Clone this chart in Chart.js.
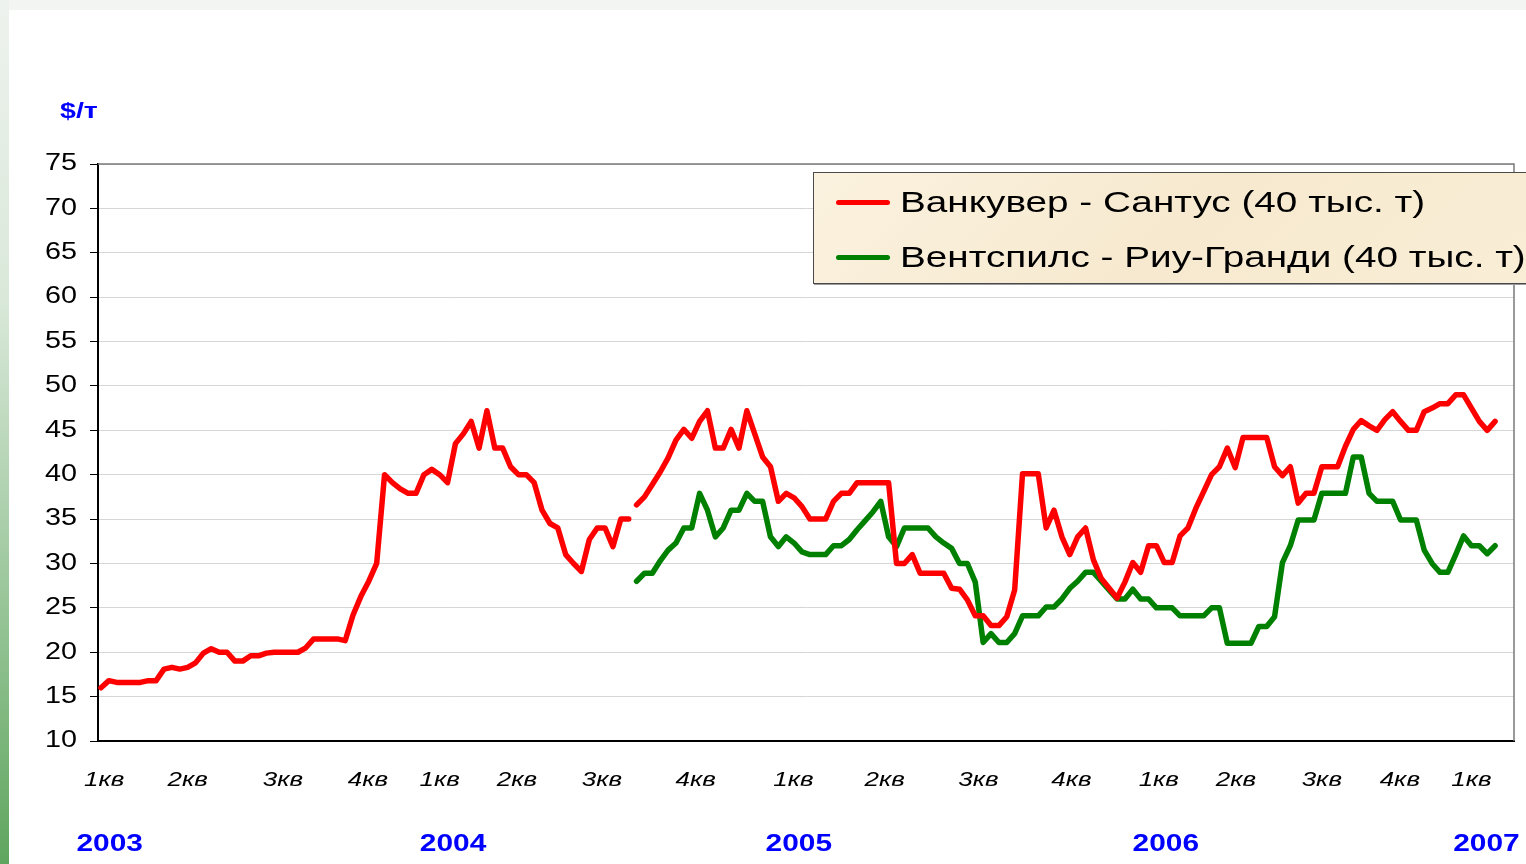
<!DOCTYPE html>
<html>
<head>
<meta charset="utf-8">
<script src="https://cdn.jsdelivr.net/npm/chart.js@4.4.1/dist/chart.umd.min.js"></script>
<style>
  html, body { margin: 0; padding: 0; width: 1526px; height: 864px; overflow: hidden; background: #f3f5f3; }
  #strip { position: absolute; left: 0; top: 0; width: 9px; height: 864px;
    background: linear-gradient(to bottom, #eef2ee 0%, #d9e8d9 35%, #8fc08f 75%, #5fa55f 100%); }
  #panel { position: absolute; left: 9px; top: 10px; width: 1517px; height: 854px; background: #fff; }
  #chart { position: absolute; left: 0; top: 0; }
  #legend { position: absolute; left: 813px; top: 172px; width: 730px; height: 110px;
    border: 1px solid #4a4a4a; box-shadow: 1px 1px 0 #9a9a9a;
    background: linear-gradient(135deg, #fbf2df 0%, #f6e9cf 50%, #f9eed6 100%);
    font-family: 'Liberation Sans', Arial, sans-serif; font-size: 30px; color: #000; }
  .item { position: absolute; left: 22px; height: 40px; line-height: 40px; white-space: nowrap; }
  .item span.ln { display: inline-block; width: 54px; height: 5px; border-radius: 3px; vertical-align: middle; margin-right: 10px; }
  .item span.tx { display: inline-block; transform: scaleX(1.29); transform-origin: left center; vertical-align: middle; }
</style>
</head>
<body>
<div id="strip"></div>
<div id="panel"></div>
<canvas id="chart" width="1526" height="864"></canvas>
<div id="legend">
  <div class="item" style="top:7px"><span class="ln" style="background:#ff0000"></span><span class="tx">Ванкувер - Сантус (40 тыс. т)</span></div>
  <div class="item" style="top:62px"><span class="ln" style="background:#008000"></span><span class="tx">Вентспилс - Риу-Гранди (40 тыс. т)</span></div>
</div>
<script>
// weekly freight rates, $/t; index = week number from the start of 2003
const redName = 'Ванкувер - Сантус (40 тыс. т)';
const greenName = 'Вентспилс - Риу-Гранди (40 тыс. т)';

const redValues = [
  16.0, 16.8, 16.6, 16.6, 16.6, 16.6, 16.8, 16.8, 18.1, 18.3,
  18.1, 18.3, 18.8, 19.9, 20.4, 20.0, 20.0, 19.0, 19.0, 19.6,
  19.6, 19.9, 20.0, 20.0, 20.0, 20.0, 20.5, 21.5, 21.5, 21.5,
  21.5, 21.3, 24.2, 26.3, 28.0, 30.0, 40.0, 39.1, 38.4, 37.9,
  37.9, 40.0, 40.6, 40.0, 39.1, 43.5, 44.6, 46.0, 43.0, 47.2,
  43.0, 43.0, 40.9, 40.0, 40.0, 39.1, 36.0, 34.5, 34.0, 31.0,
  30.0, 29.1, 32.7, 34.0, 34.0, 31.9, 35.0, 35.0,
  36.6, 37.5, 38.9, 40.3, 41.9, 43.9, 45.1, 44.1, 46.0, 47.2, 43.0, 43.0,
  45.1, 43.0, 47.2, 44.6, 42.0, 40.9, 37.0, 37.9, 37.4, 36.4,
  35.0, 35.0, 35.0, 37.0, 37.9, 37.9, 39.1, 39.1, 39.1, 39.1,
  39.1, 30.0, 30.0, 31.0, 28.9, 28.9, 28.9, 28.9, 27.2, 27.1,
  25.9, 24.1, 24.1, 23.0, 23.0, 24.0, 27.0, 40.1, 40.1, 40.1,
  34.0, 36.0, 33.0, 31.0, 33.0, 34.0, 30.4, 28.3, 27.2, 26.1,
  27.9, 30.1, 29.0, 32.0, 32.0, 30.1, 30.1, 33.1, 34.0, 36.2,
  38.1, 40.0, 40.9, 43.0, 40.8, 44.2, 44.2, 44.2, 44.2, 40.9,
  39.9, 40.9, 36.8, 37.9, 37.9, 40.9, 40.9, 40.9, 43.2, 45.1,
  46.1, 45.5, 45.0, 46.2, 47.1, 46.0, 45.0, 45.0, 47.1, 47.5,
  48.0, 48.0, 49.0, 49.0, 47.5, 46.0, 45.0, 46.0
];
const redBreaks = [67]; // no quote between week 67 and 68

const greenStart = 68;
const greenValues = [
  28.0, 28.9, 28.9, 30.3, 31.5, 32.3, 34.0, 34.0, 37.9, 36.0, 33.0, 34.0,
  36.0, 36.0, 37.9, 37.0, 37.0, 33.0, 31.9, 33.0, 32.3, 31.3,
  31.0, 31.0, 31.0, 32.0, 32.0, 32.7, 33.8, 34.8, 35.8, 37.0,
  33.0, 31.9, 34.0, 34.0, 34.0, 34.0, 33.0, 32.3, 31.7, 30.0,
  30.0, 27.9, 21.1, 22.1, 21.1, 21.1, 22.1, 24.1, 24.1, 24.1,
  25.1, 25.1, 26.0, 27.2, 28.0, 29.0, 29.0, 28.0, 27.0, 26.0,
  26.0, 27.1, 26.0, 26.0, 25.0, 25.0, 25.0, 24.1, 24.1, 24.1,
  24.1, 25.0, 25.0, 21.0, 21.0, 21.0, 21.0, 22.9, 22.9, 24.0,
  30.1, 32.0, 34.9, 34.9, 34.9, 37.9, 37.9, 37.9, 37.9, 42.0,
  42.0, 37.9, 37.0, 37.0, 37.0, 34.9, 34.9, 34.9, 31.5, 30.0,
  29.0, 29.0, 31.0, 33.1, 32.0, 32.0, 31.1, 32.0
];

const quarterLabels = ['1кв', '2кв', '3кв', '4кв', '1кв', '2кв', '3кв', '4кв', '1кв',
  '2кв', '3кв', '4кв', '1кв', '2кв', '3кв', '4кв', '1кв'];
const quarterPos = [0.4, 11.0, 23.1, 33.9, 43.0, 52.8, 63.6, 75.5, 87.9,
  99.5, 111.4, 123.2, 134.3, 144.1, 155.0, 164.9, 174.0];
const yearLabels = ['2003', '2004', '2005', '2006', '2007'];
const yearPos = [1.1, 44.7, 88.6, 135.2, 175.9];
const yTicks = [10, 15, 20, 25, 30, 35, 40, 45, 50, 55, 60, 65, 70, 75];
const unitLabel = '$/т';

const xMin = -0.38, xMax = 179.4;
const FONT = "'Liberation Sans', Arial, Helvetica, sans-serif";
Chart.defaults.font.family = FONT;
Chart.defaults.color = '#000';

const redData = redValues.map((v, i) => ({ x: i, y: v }));
const greenData = greenValues.map((v, i) => ({ x: greenStart + i, y: v }));

// the original slide is stretched sideways, so labels are drawn wider than the font
function wideText(ctx, text, x, y, align, sx) {
  const w = ctx.measureText(text).width * sx;
  const left = align === 'right' ? x - w : align === 'center' ? x - w / 2 : x;
  ctx.save();
  ctx.translate(left, y);
  ctx.scale(sx, 1);
  ctx.textAlign = 'left';
  ctx.textBaseline = 'middle';
  ctx.fillText(text, 0, 0);
  ctx.restore();
}

const frame = {
  id: 'frame',
  beforeDatasetsDraw(chart) {
    const { ctx, chartArea: a } = chart;
    ctx.save();
    ctx.strokeStyle = '#7a7a7a';
    ctx.lineWidth = 1.5;
    ctx.beginPath();
    ctx.moveTo(a.left, a.top);
    ctx.lineTo(a.right, a.top);
    ctx.lineTo(a.right, a.bottom);
    ctx.stroke();
    ctx.restore();
  },
  afterDraw(chart) {
    const { ctx, chartArea: a, scales } = chart;
    ctx.save();
    ctx.fillStyle = '#000';
    ctx.font = '23px ' + FONT;
    scales.y.ticks.forEach(t => {
      wideText(ctx, String(t.value), a.left - 21, scales.y.getPixelForValue(t.value), 'right', 1.25);
    });
    ctx.font = 'italic 20px ' + FONT;
    scales.x.ticks.forEach((t, i) => {
      wideText(ctx, quarterLabels[i], scales.x.getPixelForValue(t.value), a.bottom + 39, 'center', 1.3);
    });
    ctx.fillStyle = '#0000ff';
    ctx.font = 'bold 23px ' + FONT;
    scales.years.ticks.forEach((t, i) => {
      wideText(ctx, yearLabels[i], scales.years.getPixelForValue(t.value), a.bottom + 104, 'center', 1.3);
    });
    ctx.font = 'bold 22px ' + FONT;
    wideText(ctx, unitLabel, a.left - 38, 112, 'left', 1.3);
    ctx.restore();
  }
};

new Chart(document.getElementById('chart'), {
  type: 'line',
  data: {
    datasets: [
      {
        label: redName,
        data: redData,
        borderColor: '#ff0000',
        borderWidth: 5.5,
        pointRadius: 0,
        tension: 0,
        borderJoinStyle: 'round',
        borderCapStyle: 'round',
        segment: {
          borderColor: c => redBreaks.includes(c.p0DataIndex) ? 'rgba(0,0,0,0)' : undefined
        }
      },
      {
        label: greenName,
        data: greenData,
        borderColor: '#008000',
        borderWidth: 5.5,
        pointRadius: 0,
        tension: 0,
        borderJoinStyle: 'round',
        borderCapStyle: 'round'
      }
    ]
  },
  options: {
    responsive: false,
    animation: false,
    layout: { padding: { top: 164, right: 12, bottom: 0, left: 0 } },
    plugins: {
      legend: { display: false },
      tooltip: { enabled: false }
    },
    scales: {
      x: {
        type: 'linear',
        position: 'bottom',
        min: xMin,
        max: xMax,
        weight: 0,
        afterBuildTicks: s => { s.ticks = quarterPos.map(v => ({ value: v })); },
        afterFit: s => { s.height = 70; },
        grid: { display: false, drawTicks: false },
        border: { display: true, color: '#000', width: 2 },
        ticks: { display: false, autoSkip: false }
      },
      years: {
        type: 'linear',
        position: 'bottom',
        min: xMin,
        max: xMax,
        weight: 1,
        afterBuildTicks: s => { s.ticks = yearPos.map(v => ({ value: v })); },
        afterFit: s => { s.height = 53; },
        grid: { display: false, drawTicks: false },
        border: { display: false },
        ticks: { display: false, autoSkip: false }
      },
      y: {
        min: 10,
        max: 75,
        afterBuildTicks: s => { s.ticks = yTicks.map(v => ({ value: v })); },
        afterFit: s => { s.width = 98; },
        grid: { color: '#d6d6d6', lineWidth: 1, tickColor: '#000', tickLength: 8 },
        border: { display: true, color: '#000', width: 2 },
        ticks: { display: false }
      }
    }
  },
  plugins: [frame]
});
</script>
</body>
</html>
